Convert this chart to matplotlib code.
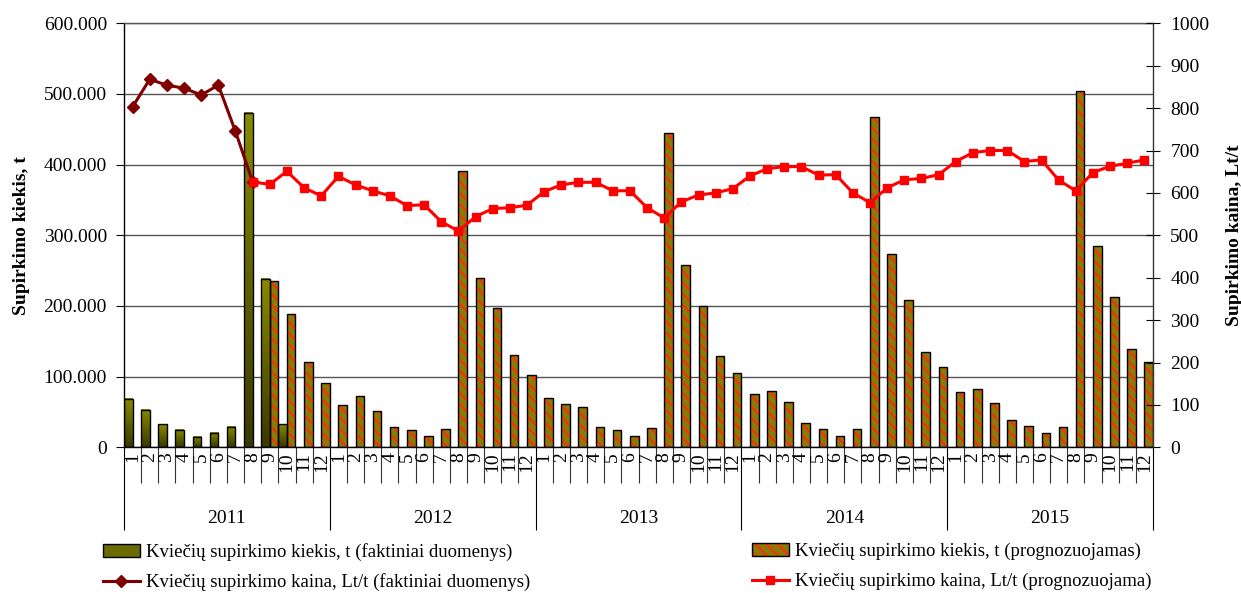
import numpy as np
import matplotlib
matplotlib.use("Agg")
import matplotlib.pyplot as plt
from matplotlib.colors import LinearSegmentedColormap
from matplotlib.patches import Patch
from matplotlib.lines import Line2D
from matplotlib.legend_handler import HandlerTuple
from matplotlib.ticker import FuncFormatter, MultipleLocator

plt.rcParams['font.family'] = ['Liberation Serif', 'DejaVu Serif']
plt.rcParams['hatch.linewidth'] = 1.4

# ---- data -------------------------------------------------------------
years = ['2011', '2012', '2013', '2014', '2015']
months = [str(m) for m in range(1, 13)]

# purchase quantity, t - actual data (2011 months 1-10)
qty_actual = [68000, 53000, 32500, 24500, 14500, 20500, 28500, 473500, 238000, 32500]

# purchase quantity, t - forecast (2011 month 9 .. 2015 month 12)
qty_forecast = [
    235500, 188500, 121000, 90500,
    60000, 72000, 51500, 28500, 25000, 16000, 26500, 391500, 239000, 196500, 131000, 102500,
    70000, 61500, 57500, 28500, 25000, 16500, 27000, 444500, 258500, 200500, 129000, 104500,
    76000, 80000, 63500, 35000, 26500, 16000, 26500, 467500, 273000, 209000, 135000, 113000,
    78000, 82000, 63000, 38500, 30500, 20000, 28500, 503500, 285000, 213000, 139500, 120500,
]

# purchase price, Lt/t - actual data (2011 months 1-8)
price_actual = [803, 868, 854, 847, 831, 854, 745, 626]

# purchase price, Lt/t - forecast (2011 month 8 .. 2015 month 12)
price_forecast = [
    626, 620, 651, 612, 593,
    639, 619, 605, 593, 570, 572, 532, 510, 544, 563, 565, 571,
    603, 619, 625, 625, 605, 605, 565, 541, 579, 595, 600, 610,
    640, 657, 662, 662, 642, 643, 600, 577, 612, 631, 634, 643,
    674, 695, 700, 700, 674, 678, 630, 605, 648, 663, 670, 678,
]

labels = [
    'Kviečių supirkimo kiekis, t (faktiniai duomenys)',
    'Kviečių supirkimo kiekis, t (prognozuojamas)',
    'Kviečių supirkimo kaina, Lt/t (faktiniai duomenys)',
    'Kviečių supirkimo kaina, Lt/t (prognozuojama)',
]

# ---- styling ----------------------------------------------------------
OLIVE_TOP = '#8a8a00'
OLIVE_BOTTOM = '#383800'
HATCH_FACE = '#8a7a06'
HATCH_RED = '#ff2a10'
DARK_RED = '#800000'
RED = '#ff0000'
GRID = '#555555'
FS = 14

n_months = len(years) * 12
x_all = np.arange(n_months)
x_qa = x_all[:len(qty_actual)]
x_qf = x_all[n_months - len(qty_forecast):]
x_pa = x_all[:len(price_actual)]
x_pf = x_all[n_months - len(price_forecast):]

fig = plt.figure(figsize=(12.41, 5.93), dpi=100)
ax = fig.add_axes([124 / 1241, 1 - 447.3 / 593, 1029 / 1241, 424 / 593])
ax2 = ax.twinx()

# ---- bars (left axis) -------------------------------------------------
bw = 0.5
grad_cmap = LinearSegmentedColormap.from_list('olive_grad', [OLIVE_BOTTOM, OLIVE_TOP])
grad = np.linspace(1, 0, 256).reshape(-1, 1)
for xi, h in zip(x_qa, qty_actual):
    ax.imshow(grad, cmap=grad_cmap, aspect='auto', origin='upper',
              extent=(xi - bw, xi, 0, h), zorder=2, interpolation='bilinear')
ax.bar(x_qa - bw / 2, qty_actual, width=bw, fill=False,
       edgecolor='black', linewidth=1.0, zorder=3)

ax.bar(x_qf + bw / 2, qty_forecast, width=bw, color=HATCH_FACE,
       hatch='\\\\\\', edgecolor=HATCH_RED, linewidth=0, zorder=2)
ax.bar(x_qf + bw / 2, qty_forecast, width=bw, fill=False,
       edgecolor='black', linewidth=1.0, zorder=3)

ax.set_xlim(-0.5, n_months - 0.5)
ax.set_ylim(0, 600000)
ax.yaxis.set_major_locator(MultipleLocator(100000))
ax.yaxis.set_major_formatter(FuncFormatter(lambda v, p: f'{v:,.0f}'.replace(',', '.')))
ax.grid(axis='y', color=GRID, linewidth=1.0)
ax.set_axisbelow(True)
ax.tick_params(axis='y', direction='out', length=5.8, width=0.8, pad=6.5,
               labelsize=FS, colors='black')
ax.set_ylabel('Supirkimo kiekis, t', fontsize=FS, fontweight='bold', labelpad=10)

# category separators on the x axis
ax.set_xticks(np.arange(-0.5, n_months, 12))
ax.set_xticks(np.arange(-0.5, n_months, 1), minor=True)
ax.tick_params(axis='x', which='major', direction='out', length=59.8, width=0.8,
               labelbottom=False)
ax.tick_params(axis='x', which='minor', direction='out', length=26, width=0.8,
               color='#333333')

for i in x_all:
    ax.annotate(months[i % 12], xy=(i, 0), xycoords=('data', 'axes fraction'),
                xytext=(0, -3.5), textcoords='offset points', rotation=90,
                ha='center', va='top', fontsize=FS)
for k, yr in enumerate(years):
    ax.annotate(yr, xy=(12 * k + 5.5, 0), xycoords=('data', 'axes fraction'),
                xytext=(0, -51), textcoords='offset points',
                ha='center', va='center', fontsize=FS)

ax.spines['right'].set_visible(False)
ax.spines['top'].set_color(GRID)
ax.spines['top'].set_linewidth(1.0)
ax.spines['left'].set_linewidth(1.0)
ax.spines['bottom'].set_linewidth(1.0)

# ---- lines (right axis) -----------------------------------------------
ax2.plot(x_pa, price_actual, color=DARK_RED, lw=2.2, marker='D', ms=6,
         zorder=3)
ax2.plot(x_pf, price_forecast, color=RED, lw=2.2, marker='s', ms=6,
         zorder=4)
ax2.set_ylim(0, 1000)
ax2.yaxis.set_major_locator(MultipleLocator(100))
ax2.tick_params(axis='y', direction='inout', length=10, width=0.8, pad=7.5,
                labelsize=FS)
ax2.set_ylabel('Supirkimo kaina, Lt/t', fontsize=FS, fontweight='bold',
               rotation=90, labelpad=12)
for s in ('left', 'top', 'bottom'):
    ax2.spines[s].set_visible(False)
ax2.spines['right'].set_color('#333333')
ax2.spines['right'].set_linewidth(1.0)

# ---- legends ----------------------------------------------------------
h_bar_a = Patch(facecolor='#6a6a00', edgecolor='black', linewidth=1.0)
h_bar_f = (Patch(facecolor=HATCH_FACE, hatch='\\\\\\', edgecolor=HATCH_RED, linewidth=0),
           Patch(fill=False, edgecolor='black', linewidth=1.0))
h_line_a = Line2D([], [], color=DARK_RED, lw=2.2, marker='D', ms=6)
h_line_f = Line2D([], [], color=RED, lw=2.2, marker='s', ms=6)

leg_kw = dict(loc='upper left', frameon=False, fontsize=13.5, handlelength=1.97,
              handleheight=0.65, handletextpad=0.3, labelspacing=0.66,
              borderpad=0, borderaxespad=0,
              handler_map={tuple: HandlerTuple(ndivide=1, pad=0)})
fig.legend([h_bar_a, h_line_a], [labels[0], labels[2]],
           bbox_to_anchor=(103 / 1241, 1 - 543 / 593), **leg_kw)
fig.legend([h_bar_f, h_line_f], [labels[1], labels[3]],
           bbox_to_anchor=(752 / 1241, 1 - 543 / 593), **leg_kw)

fig.savefig('out.png', dpi=100)
